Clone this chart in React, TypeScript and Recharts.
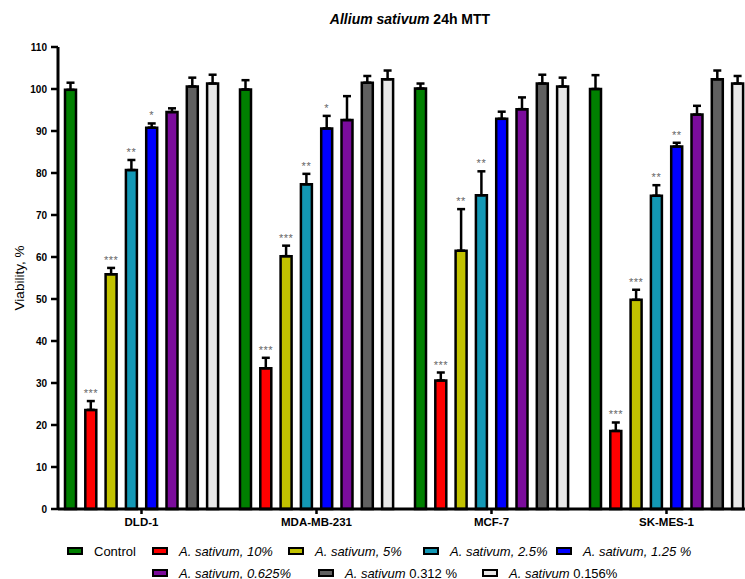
import React from 'react';
import { BarChart, Bar, XAxis, YAxis, ErrorBar, LabelList } from 'recharts';

const cellLines = ['DLD-1', 'MDA-MB-231', 'MCF-7', 'SK-MES-1'];
const yTicks = [0, 10, 20, 30, 40, 50, 60, 70, 80, 90, 100, 110];

// mean viability and upper SD per concentration
const control = [99.8, 99.9, 100.1, 100.0];
const controlErr = [1.7, 2.2, 1.2, 3.3];
const conc10 = [23.6, 33.5, 30.6, 18.6];
const conc10Err = [2.1, 2.5, 1.9, 2.0];
const conc5 = [55.9, 60.2, 61.5, 49.8];
const conc5Err = [1.5, 2.5, 9.9, 2.4];
const conc2_5 = [80.7, 77.3, 74.7, 74.6];
const conc2_5Err = [2.4, 2.5, 5.7, 2.5];
const conc1_25 = [90.8, 90.6, 92.9, 86.3];
const conc1_25Err = [1.0, 3.0, 1.7, 0.9];
const conc0_625 = [94.5, 92.6, 95.2, 93.9];
const conc0_625Err = [0.9, 5.7, 2.8, 2.1];
const conc0_312 = [100.6, 101.5, 101.3, 102.3];
const conc0_312Err = [2.1, 1.6, 2.1, 2.1];
const conc0_156 = [101.3, 102.3, 100.6, 101.3];
const conc0_156Err = [2.1, 2.1, 2.1, 1.8];

// significance marks
const noSig = ['', '', '', ''];
const sig10 = ['***', '***', '***', '***'];
const sig5 = ['***', '***', '**', '***'];
const sig2_5 = ['**', '**', '**', '**'];
const sig1_25 = ['*', '*', '', '**'];

const series = [
  { key: 'c', italic: '', plain: 'Control', color: '#008000', vals: control, errs: controlErr, sig: noSig },
  { key: 'a10', italic: 'A. sativum, 10%', plain: '', color: '#FF0000', vals: conc10, errs: conc10Err, sig: sig10 },
  { key: 'a5', italic: 'A. sativum, 5%', plain: '', color: '#C2C200', vals: conc5, errs: conc5Err, sig: sig5 },
  { key: 'a25', italic: 'A. sativum, 2.5%', plain: '', color: '#1398B5', vals: conc2_5, errs: conc2_5Err, sig: sig2_5 },
  { key: 'a125', italic: 'A. sativum, 1.25 %', plain: '', color: '#0000FF', vals: conc1_25, errs: conc1_25Err, sig: sig1_25 },
  { key: 'a0625', italic: 'A. sativum, 0.625%', plain: '', color: '#7B0C9C', vals: conc0_625, errs: conc0_625Err, sig: noSig },
  { key: 'a0312', italic: 'A. sativum', plain: ' 0.312 %', color: '#606060', vals: conc0_312, errs: conc0_312Err, sig: noSig },
  { key: 'a0156', italic: 'A. sativum', plain: ' 0.156%', color: '#E8E8E8', vals: conc0_156, errs: conc0_156Err, sig: noSig },
];

// legend layout (GraphPad-style fixed placement)
const legendX = [67, 152, 288, 423, 556, 152, 318, 482];
const legendY = [551, 551, 551, 551, 551, 573, 573, 573];

const data = cellLines.map((name, i) => {
  const row: any = { name };
  series.forEach(s => {
    row[s.key] = s.vals[i];
    row[s.key + '_e'] = [0, s.errs[i]];
    row[s.key + '_s'] = { stars: s.sig[i], v: s.vals[i], e: s.errs[i] };
  });
  return row;
});

const FONT = '"Liberation Sans", Arial, sans-serif';

const StarLabel = (props: any) => {
  const vb = props.viewBox || props;
  const info = props.value;
  if (!info || !info.stars) return null;
  const { x, y, width, height } = vb;
  const pxPerUnit = Math.abs(height) / info.v;
  const top = y - info.e * pxPerUnit;
  return (
    <text
      x={x + width / 2}
      y={top - 4}
      textAnchor="middle"
      fontSize={11}
      fill="#666"
      fontFamily={FONT}
      letterSpacing={0.5}
    >
      {info.stars}
    </text>
  );
};

export default function App() {
  return (
    <div
      style={{
        position: 'absolute',
        left: 0,
        top: 0,
        width: 745,
        height: 579,
        overflow: 'hidden',
        background: '#fff',
        fontFamily: FONT,
      }}
    >
      <div
        style={{
          position: 'absolute',
          left: 410,
          top: 19,
          transform: 'translate(-50%, -50%)',
          fontSize: 14,
          fontWeight: 'bold',
          whiteSpace: 'nowrap',
          color: '#000',
        }}
      >
        <i>Allium sativum</i> 24h MTT
      </div>
      <div
        style={{
          position: 'absolute',
          left: 19,
          top: 278,
          transform: 'translate(-50%, -50%) rotate(-90deg)',
          fontSize: 13.5,
          whiteSpace: 'nowrap',
          color: '#000',
        }}
      >
        Viability, %
      </div>

      <BarChart
        width={760}
        height={579}
        data={data}
        margin={{ top: 47, right: 6, bottom: 40, left: 0 }}
        barSize={11}
        barGap={9.3}
      >
        <XAxis
          dataKey="name"
          height={30}
          padding={{ left: -4, right: 0 }}
          axisLine={{ stroke: '#000', strokeWidth: 3 }}
          tickLine={{ stroke: '#000', strokeWidth: 2.5 }}
          tickSize={5}
          tickMargin={4}
          tick={{ fontSize: 11.5, fontWeight: 'bold', fill: '#000', fontFamily: FONT }}
        />
        <YAxis
          width={58}
          domain={[0, 110]}
          ticks={yTicks}
          interval={0}
          axisLine={{ stroke: '#000', strokeWidth: 3 }}
          tickLine={{ stroke: '#000', strokeWidth: 2.5 }}
          tickSize={7}
          tickMargin={4}
          tick={{ fontSize: 10, fontWeight: 'bold', fill: '#000', fontFamily: FONT }}
        />
        {series.map(s => (
          <Bar
            key={s.key}
            dataKey={s.key}
            fill={s.color}
            stroke="#000"
            strokeWidth={2.5}
            isAnimationActive={false}
          >
            <ErrorBar dataKey={s.key + '_e'} width={4} stroke="#000" strokeWidth={2.5} direction="y" />
            <LabelList dataKey={s.key + '_s'} content={StarLabel} />
          </Bar>
        ))}
      </BarChart>

      {series.map((s, i) => (
        <div
          key={s.key}
          style={{
            position: 'absolute',
            left: legendX[i],
            top: legendY[i] - 9,
            height: 18,
            display: 'flex',
            alignItems: 'center',
            whiteSpace: 'nowrap',
            fontSize: 13,
            color: '#000',
          }}
        >
          <span
            style={{
              display: 'inline-block',
              width: 16,
              height: 8,
              boxSizing: 'border-box',
              border: '2px solid #000',
              background: s.color,
              marginRight: 11,
            }}
          />
          <span>
            {s.italic && <i>{s.italic}</i>}
            {s.plain}
          </span>
        </div>
      ))}
    </div>
  );
}
